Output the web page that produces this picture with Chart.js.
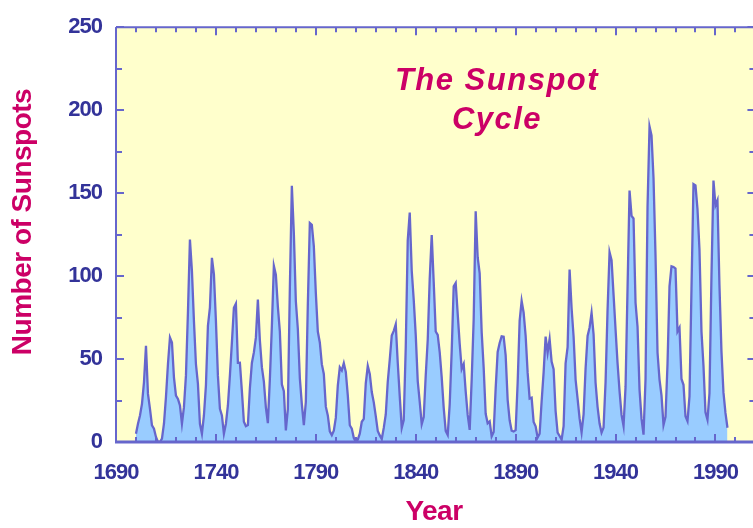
<!DOCTYPE html>
<html><head><meta charset="utf-8">
<script src="https://cdn.jsdelivr.net/npm/chart.js@4"></script>
<style>
html,body{margin:0;padding:0;background:#ffffff;overflow:hidden;width:753px;height:528px}
#wrap{position:relative;width:758px;height:528px}
</style>
</head><body><div id="wrap"><canvas id="c" width="758" height="528"></canvas></div>
<script>
// Yearly mean sunspot numbers, 1700 - 1996
const firstYear = 1700;
const sunspots = [
5.0,11.0,16.0,23.0,36.0,58.0,29.0,20.0,10.0,8.0,
3.0,0.0,0.0,2.0,11.0,27.0,47.0,63.0,60.0,39.0,
28.0,26.0,22.0,11.0,21.0,40.0,78.0,122.0,103.0,73.0,
47.0,35.0,11.0,5.0,16.0,34.0,70.0,81.0,111.0,101.0,
73.0,40.0,20.0,16.0,5.0,11.0,22.0,40.0,60.0,80.9,
83.4,47.7,47.8,30.7,12.2,9.6,10.2,32.4,47.6,54.0,
62.9,85.9,61.2,45.1,36.4,20.9,11.4,37.8,69.8,106.1,
100.8,81.6,66.5,34.8,30.6,7.0,19.8,92.5,154.4,125.9,
84.8,68.1,38.5,22.8,10.2,24.1,82.9,132.0,130.9,118.1,
89.9,66.6,60.0,46.9,41.0,21.3,16.0,6.4,4.1,6.8,
14.5,34.0,45.0,43.1,47.5,42.2,28.1,10.1,8.1,2.5,
0.0,1.4,5.0,12.2,13.9,35.4,45.8,41.0,30.1,23.9,
15.6,6.6,4.0,1.8,8.5,16.6,36.3,49.6,64.2,67.0,
70.9,47.8,27.5,8.5,13.2,56.9,121.5,138.3,103.2,85.7,
64.6,36.7,24.2,10.7,15.0,40.1,61.5,98.5,124.7,96.3,
66.6,64.5,54.1,39.0,20.6,6.7,4.3,22.7,54.8,93.8,
95.8,77.2,59.1,44.0,47.0,30.5,16.3,7.3,37.6,74.0,
139.0,111.2,101.6,66.2,44.7,17.0,11.3,12.4,3.4,6.0,
32.3,54.3,59.7,63.7,63.5,52.2,25.4,13.1,6.8,6.3,
7.1,35.6,73.0,85.1,78.0,64.0,41.8,26.2,26.7,12.1,
9.5,2.7,5.0,24.4,42.0,63.5,53.8,62.0,48.5,43.9,
18.6,5.7,3.6,1.4,9.6,47.4,57.1,103.9,80.6,63.6,
37.6,26.1,14.2,5.8,16.7,44.3,63.9,69.0,77.8,64.9,
35.7,21.2,11.1,5.7,8.7,36.1,79.7,114.4,109.6,88.8,
67.8,47.5,30.6,16.3,9.6,33.2,92.6,151.6,136.3,134.7,
83.9,69.4,31.5,13.9,4.4,38.0,141.7,190.2,184.8,159.0,
112.3,53.9,37.6,27.9,10.2,15.1,47.0,93.8,105.9,105.5,
104.5,66.6,68.9,38.0,34.5,15.5,12.6,27.5,92.5,155.4,
154.6,140.4,115.9,66.6,45.9,17.9,13.4,29.4,100.2,157.6,
142.6,145.7,94.3,54.6,29.9,17.5,8.6
];
const xTickLabels = [1690,1740,1790,1840,1890,1940,1990];
const yTickLabels = [0,50,100,150,200,250];
const titleLines = ['The Sunspot','Cycle'];
const xTitle = 'Year';
const yTitle = 'Number of Sunspots';

const points = sunspots.map((v,i)=>({x:firstYear+i, y:v}));

const AXIS = '#6666cc';
const LABEL = '#333399';
const MAGENTA = '#cc0066';
const FONT = "'Liberation Sans', Arial, sans-serif";

const bgPlugin = {
  id:'bg',
  beforeDraw(chart){
    const {ctx, chartArea:a} = chart;
    try { ctx.letterSpacing = '-1px'; } catch(e) {}
    ctx.save();
    ctx.fillStyle = '#ffffcc';
    ctx.fillRect(a.left, a.top, a.right-a.left, a.bottom-a.top);
    ctx.restore();
  }
};

const framePlugin = {
  id:'frame',
  afterDatasetsDraw(chart){
    const {ctx, chartArea:a, scales:{x, y}} = chart;
    ctx.save();
    ctx.strokeStyle = AXIS;
    ctx.lineWidth = 2;
    ctx.beginPath();
    for (let v = x.min; v <= x.max; v += 10) {
      const px = Math.round(x.getPixelForValue(v));
      const major = (v - x.min) % 50 === 0;
      const l = major ? 8 : 5;
      ctx.moveTo(px, a.top); ctx.lineTo(px, a.top + l);
      ctx.moveTo(px, a.bottom); ctx.lineTo(px, a.bottom - l);
    }
    for (let v = y.min; v <= y.max; v += 25) {
      const py = Math.round(y.getPixelForValue(v));
      const major = v % 50 === 0;
      const l = major ? 8 : 6;
      ctx.moveTo(a.left, py); ctx.lineTo(a.left + l, py);
      ctx.moveTo(a.right, py); ctx.lineTo(a.right - l, py);
    }
    ctx.stroke();
    ctx.lineWidth = 2;
    ctx.beginPath();
    ctx.moveTo(a.left, a.top); ctx.lineTo(a.right, a.top);
    ctx.moveTo(a.left, a.top); ctx.lineTo(a.left, a.bottom);
    ctx.moveTo(a.right, a.top); ctx.lineTo(a.right, a.bottom);
    ctx.stroke();
    ctx.lineWidth = 3;
    ctx.beginPath();
    ctx.moveTo(a.left - 1, a.bottom); ctx.lineTo(a.right, a.bottom);
    ctx.stroke();

    // inner title
    ctx.fillStyle = MAGENTA;
    ctx.font = "italic bold 31px " + FONT;
    ctx.textAlign = 'center';
    ctx.textBaseline = 'alphabetic';
    try { ctx.letterSpacing = '1.5px'; } catch(e) {}
    ctx.fillText(titleLines[0], 497, 90);
    ctx.fillText(titleLines[1], 497, 129);

    // axis titles
    try { ctx.letterSpacing = '-0.5px'; } catch(e) {}
    ctx.textBaseline = 'middle';
    ctx.font = "bold 28px " + FONT;
    ctx.fillText(xTitle, 434, 512);
    ctx.save();
    ctx.translate(23, 222);
    ctx.rotate(-Math.PI/2);
    ctx.font = "bold 28px " + FONT;
    ctx.fillText(yTitle, 0, 0);
    ctx.restore();
    ctx.restore();
  }
};

new Chart(document.getElementById('c').getContext('2d'), {
  type:'line',
  data:{datasets:[{
    data:points,
    borderColor:AXIS,
    borderWidth:2.3,
    backgroundColor:'#99ccff',
    fill:'origin',
    pointRadius:0,
    tension:0
  }]},
  options:{
    responsive:false,
    animation:false,
    layout:{padding:{top:16,right:1,left:0,bottom:0}},
    plugins:{legend:{display:false},tooltip:{enabled:false}},
    scales:{
      x:{
        type:'linear', min:1690, max:2010,
        grid:{display:false, drawTicks:false},
        border:{display:false},
        afterBuildTicks:s=>{ s.ticks = xTickLabels.map(v=>({value:v})); },
        afterFit:s=>{ s.height = 86; },
        ticks:{color:LABEL, font:{family:FONT, size:22, weight:'bold'}, padding:18, maxRotation:0, autoSkip:false,
               callback:v=>String(v)},
        title:{display:false}
      },
      y:{
        type:'linear', min:0, max:250,
        grid:{display:false, drawTicks:false},
        border:{display:false},
        afterBuildTicks:s=>{ s.ticks = yTickLabels.map(v=>({value:v})); },
        afterFit:s=>{ s.width = 116; },
        ticks:{color:LABEL, font:{family:FONT, size:22, weight:'bold'}, padding:14, autoSkip:false,
               callback:v=>String(v)},
        title:{display:false}
      }
    }
  },
  plugins:[bgPlugin, framePlugin]
});
</script>
</body></html>
